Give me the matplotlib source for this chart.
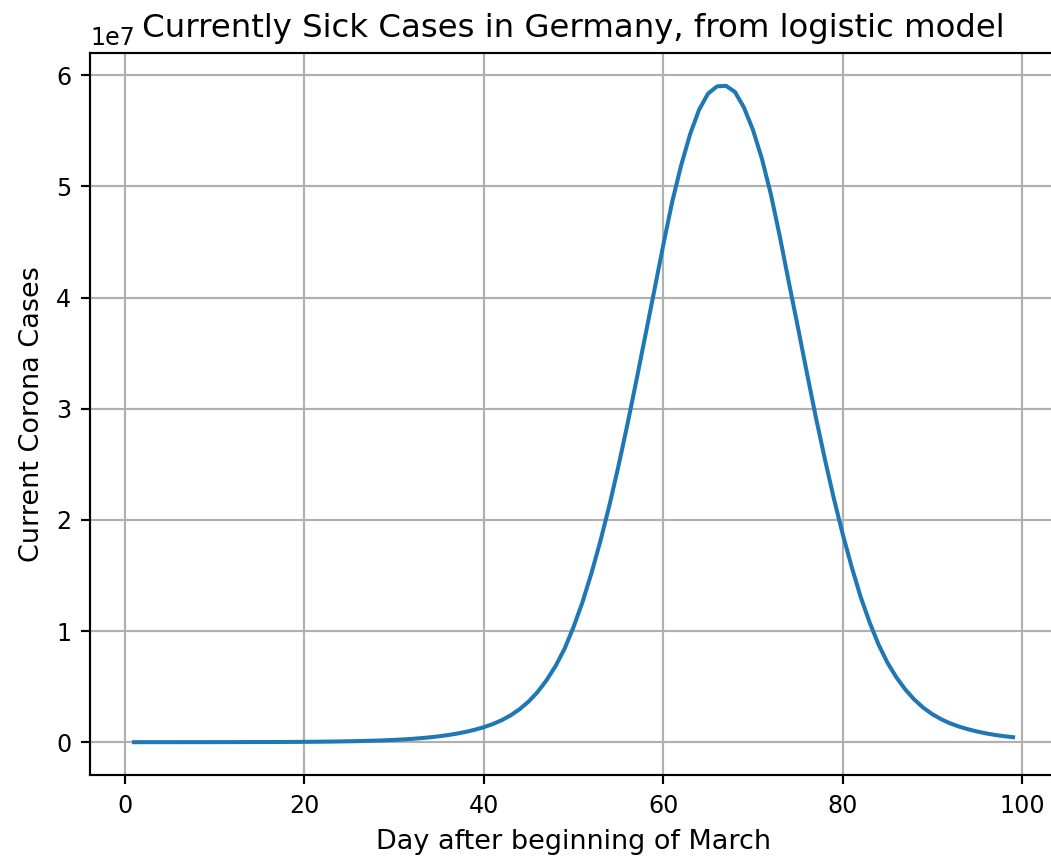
import matplotlib
matplotlib.use('Agg')
import matplotlib.pyplot as plt
import numpy as np

# days after beginning of March
days = list(range(1, 100))

# currently sick cases (units of 1e7)
sick_1e7 = [
    0.0001, 0.00012, 0.00014, 0.00017, 0.0002, 0.00024, 0.0003, 0.00035, 0.0004, 0.0005,  # 1-10
    0.0006, 0.0007, 0.0009, 0.0011, 0.0013, 0.0015, 0.0018, 0.0022, 0.0027, 0.0032,      # 11-20
    0.0039, 0.0047, 0.0057, 0.0069, 0.0083, 0.010, 0.012, 0.0145, 0.0173, 0.0207,        # 21-30
    0.025, 0.030, 0.0365, 0.044, 0.053, 0.064, 0.077, 0.093, 0.112, 0.135,               # 31-40
    0.163, 0.198, 0.242, 0.297, 0.366, 0.452, 0.558, 0.685, 0.84, 1.035,                 # 41-50
    1.26, 1.52, 1.81, 2.13, 2.48, 2.855, 3.25, 3.655, 4.06, 4.47,                        # 51-60
    4.86, 5.19, 5.47, 5.69, 5.835, 5.90, 5.905, 5.85, 5.71, 5.51,                        # 61-70
    5.25, 4.93, 4.55, 4.14, 3.74, 3.33, 2.93, 2.555, 2.20, 1.875,                        # 71-80
    1.58, 1.31, 1.08, 0.88, 0.715, 0.583, 0.473, 0.383, 0.31, 0.252,                     # 81-90
    0.206, 0.169, 0.14, 0.116, 0.096, 0.079, 0.065, 0.054, 0.045,                        # 91-99
]

sick = np.array(sick_1e7) * 1e7

dpi = 194
fig = plt.figure(figsize=(1051 / dpi, 856 / dpi), dpi=dpi)
ax = fig.add_axes([90 / 1051, 81 / 856, 967 / 1051, 722 / 856])

ax.plot(days, sick)
ax.set_title('Currently Sick Cases in Germany, from logistic model')
ax.set_xlabel('Day after beginning of March')
ax.set_ylabel('Current Corona Cases')
ax.tick_params(labelsize=8.8)
ax.yaxis.get_offset_text().set_fontsize(8.8)
ax.grid(True)

fig.savefig('out.png', dpi=dpi)
